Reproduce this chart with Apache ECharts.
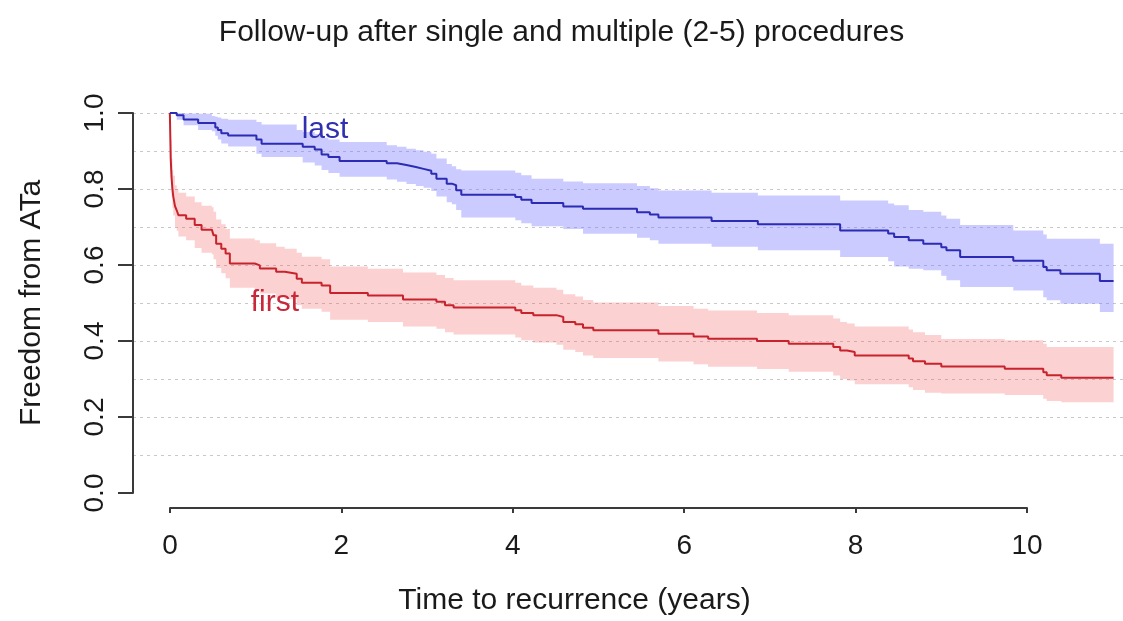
<!DOCTYPE html>
<html><head><meta charset="utf-8">
<script src="https://cdn.jsdelivr.net/npm/echarts@6/dist/echarts.min.js"></script>
<style>html,body{margin:0;padding:0;background:#fff}#c{width:1123px;height:621px}</style>
</head><body><div id="c"></div>
<script>
// ---- Data ----
const titleText = 'Follow-up after single and multiple (2-5) procedures';
const xAxisTitle = 'Time to recurrence (years)';
const yAxisTitle = 'Freedom from ATa';

// "last" procedure curve (blue): step times, survival, lower CI, upper CI
const lastT  = [0.00,0.08,0.16,0.33,0.49,0.53,0.56,0.60,0.68,1.01,1.07,1.48,1.55,1.69,1.77,1.85,1.98,2.53,2.65,2.76,2.87,2.96,3.05,3.11,3.23,3.29,3.34,3.40,4.03,4.10,4.22,4.59,4.82,5.45,5.60,5.70,6.32,6.86,7.82,8.38,8.45,8.62,8.79,9.00,9.06,9.22,9.84,10.19,10.23,10.39,10.85,11.01];
const lastS  = [1.000,0.994,0.983,0.974,0.974,0.962,0.955,0.947,0.941,0.930,0.919,0.919,0.911,0.904,0.891,0.884,0.874,0.868,0.863,0.858,0.853,0.848,0.840,0.827,0.814,0.810,0.797,0.785,0.779,0.772,0.763,0.754,0.748,0.739,0.733,0.725,0.716,0.707,0.691,0.683,0.674,0.665,0.656,0.647,0.639,0.621,0.611,0.595,0.586,0.577,0.558,0.558];
const lastLo = [1.000,0.982,0.968,0.955,0.952,0.940,0.930,0.920,0.912,0.893,0.884,0.884,0.870,0.862,0.850,0.842,0.832,0.825,0.819,0.813,0.808,0.803,0.795,0.780,0.765,0.760,0.745,0.725,0.718,0.710,0.702,0.695,0.682,0.672,0.665,0.656,0.648,0.639,0.621,0.610,0.596,0.590,0.586,0.572,0.560,0.542,0.533,0.515,0.507,0.498,0.476,0.476];
const lastHi = [1.000,1.000,0.999,0.998,0.992,0.990,0.988,0.985,0.982,0.976,0.970,0.955,0.950,0.945,0.935,0.930,0.924,0.915,0.911,0.906,0.902,0.898,0.893,0.880,0.866,0.860,0.852,0.849,0.843,0.836,0.827,0.820,0.815,0.808,0.802,0.796,0.790,0.783,0.770,0.762,0.757,0.745,0.740,0.730,0.722,0.705,0.691,0.680,0.669,0.669,0.656,0.656];

// "first" procedure curve (red)
const firstT  = [0.00,0.005,0.01,0.02,0.03,0.04,0.06,0.08,0.10,0.19,0.29,0.37,0.49,0.51,0.54,0.60,0.65,0.70,0.99,1.05,1.24,1.34,1.48,1.54,1.77,1.87,2.31,2.72,3.11,3.21,3.31,4.03,4.10,4.24,4.51,4.59,4.73,4.82,4.94,5.70,6.11,6.28,6.85,7.22,7.74,7.82,7.90,7.99,8.62,8.67,8.81,9.00,9.74,10.19,10.23,10.40,11.01];
const firstS  = [1.000,0.940,0.880,0.830,0.800,0.780,0.755,0.744,0.731,0.722,0.705,0.693,0.690,0.678,0.656,0.643,0.630,0.604,0.599,0.591,0.582,0.577,0.564,0.553,0.546,0.526,0.520,0.509,0.503,0.494,0.488,0.481,0.474,0.468,0.463,0.450,0.444,0.435,0.428,0.419,0.412,0.406,0.400,0.393,0.384,0.375,0.371,0.362,0.354,0.347,0.340,0.333,0.327,0.318,0.310,0.303,0.303];
const firstLo = [1.000,0.900,0.830,0.780,0.750,0.730,0.700,0.690,0.675,0.665,0.645,0.632,0.628,0.615,0.592,0.578,0.565,0.540,0.534,0.525,0.515,0.510,0.495,0.485,0.477,0.456,0.450,0.438,0.432,0.423,0.417,0.409,0.402,0.396,0.390,0.377,0.371,0.362,0.355,0.346,0.339,0.332,0.326,0.319,0.309,0.300,0.296,0.286,0.278,0.271,0.264,0.262,0.258,0.248,0.242,0.239,0.239];
const firstHi = [1.000,0.975,0.930,0.880,0.850,0.835,0.810,0.800,0.790,0.780,0.765,0.756,0.752,0.740,0.720,0.707,0.695,0.670,0.665,0.657,0.648,0.643,0.632,0.622,0.615,0.596,0.590,0.580,0.574,0.566,0.560,0.553,0.546,0.540,0.535,0.523,0.517,0.508,0.501,0.492,0.485,0.480,0.474,0.468,0.459,0.450,0.446,0.438,0.430,0.423,0.416,0.405,0.402,0.393,0.384,0.384,0.384];

// curve annotations (text, time, survival)
const annoText = ['last', 'first'];
const annoT    = [1.81, 1.225];
const annoS    = [0.956, 0.501];

// ---- Build chart ----
const FONT = 'Liberation Sans, Arial, Helvetica, sans-serif';
const BLUE = '#2b2bb3', RED = '#c8232d';
const pairs = (t, v) => t.map((x, i) => [x, v[i]]);

// step-shaped confidence band polygon (in data units), projected with api.coord
function stepBandPoints(t, lo, hi) {
  const up = [], dn = [];
  for (let i = 0; i < t.length; i++) {
    const tNext = i + 1 < t.length ? t[i + 1] : t[i];
    up.push([t[i], hi[i]], [tNext, hi[i]]);
    dn.push([t[i], lo[i]], [tNext, lo[i]]);
  }
  return up.concat(dn.reverse());
}
const bandSeries = (t, lo, hi, color) => ({
  type: 'custom', coordinateSystem: 'cartesian2d', silent: true, z: 1,
  data: [[t[0], hi[0]]], encode: { x: 0, y: 1 },
  renderItem: (params, api) => ({
    type: 'polygon',
    shape: { points: stepBandPoints(t, lo, hi).map(p => api.coord(p)) },
    style: { fill: color }
  })
});

const option = {
  animation: false,
  backgroundColor: '#ffffff',
  textStyle: { fontFamily: FONT },
  title: [{
    text: titleText, left: 'center', top: 13,
    textStyle: { fontSize: 30, fontWeight: 'normal', color: '#1a1a1a', fontFamily: FONT }
  }],
  grid: [
    { left: 133, right: 0, top: 113, height: 380 },
    { left: 170, width: 857, top: 500, height: 8 }
  ],
  xAxis: [
    { gridIndex: 0, type: 'value', min: -0.43, max: 11.12, show: false },
    { gridIndex: 1, type: 'value', min: 0, max: 10, interval: 2,
      axisLine: { show: true, onZero: false, lineStyle: { color: '#3a3a3a', width: 2 } },
      axisTick: { show: true, length: 5, lineStyle: { color: '#3a3a3a', width: 2 } },
      axisLabel: { fontSize: 28, color: '#1a1a1a', margin: 24, fontFamily: FONT },
      splitLine: { show: false },
      name: xAxisTitle, nameLocation: 'middle', nameGap: 78,
      nameTextStyle: { fontSize: 30, color: '#1a1a1a', fontFamily: FONT, padding: [0, 48, 0, 0] } }
  ],
  yAxis: [
    { gridIndex: 0, type: 'value', min: 0, max: 1, interval: 0.1,
      axisLine: { show: false }, axisTick: { show: false }, axisLabel: { show: false },
      splitLine: { show: true, showMinLine: false, lineStyle: { color: '#c8c8c8', type: [3, 4], width: 1 } } },
    { gridIndex: 0, type: 'value', position: 'left', min: 0, max: 1, interval: 0.2,
      axisLine: { show: true, onZero: false, lineStyle: { color: '#3a3a3a', width: 2 } },
      axisTick: { show: true, length: 15, lineStyle: { color: '#3a3a3a', width: 2 } },
      axisLabel: { rotate: 90, fontSize: 28, color: '#1a1a1a', margin: 24, fontFamily: FONT,
                   formatter: v => v.toFixed(1) },
      splitLine: { show: false },
      name: yAxisTitle, nameLocation: 'middle', nameGap: 86,
      nameTextStyle: { fontSize: 30, color: '#1a1a1a', fontFamily: FONT } },
    { gridIndex: 1, type: 'value', show: false }
  ],
  series: [
    bandSeries(firstT, firstLo, firstHi, 'rgba(240,70,70,0.25)'),
    bandSeries(lastT, lastLo, lastHi, 'rgba(110,110,255,0.36)'),
    { type: 'line', name: 'first', step: 'end', symbol: 'none', data: pairs(firstT, firstS),
      lineStyle: { color: RED, width: 2 }, z: 3 },
    { type: 'line', name: 'last', step: 'end', symbol: 'none', data: pairs(lastT, lastS),
      lineStyle: { color: BLUE, width: 2 }, z: 3 },
    { type: 'scatter', name: 'labels', symbolSize: 1, silent: true, z: 4,
      itemStyle: { color: 'rgba(0,0,0,0)', opacity: 1 },
      data: annoText.map((s, i) => ({
        name: s, value: [annoT[i], annoS[i]],
        label: { color: i === 0 ? '#3030b0' : '#c8283a' }
      })),
      label: { show: true, position: 'inside', formatter: '{b}', fontSize: 30, fontFamily: FONT,
               textBorderWidth: 0, opacity: 1 } }
  ]
};

const chart = echarts.init(document.getElementById('c'), null, { renderer: 'canvas' });
chart.setOption(option);
</script></body></html>
